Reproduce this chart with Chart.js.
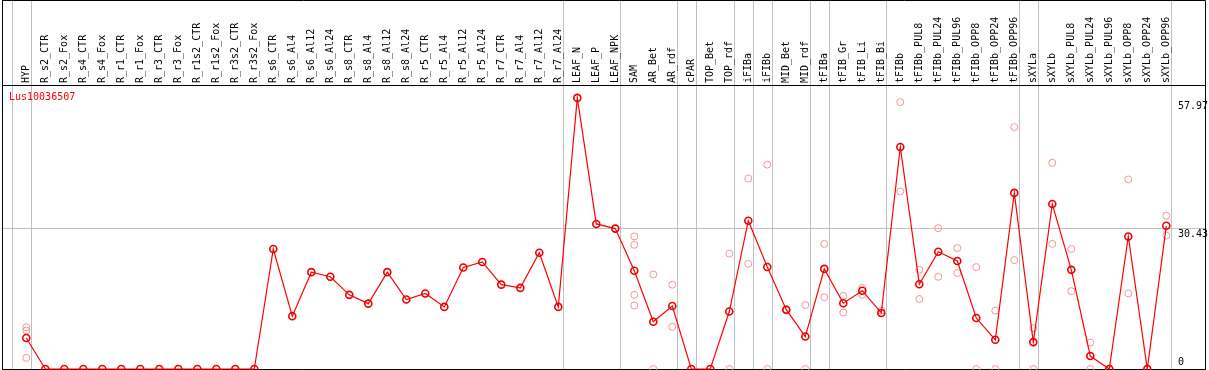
<!DOCTYPE html>
<html>
<head>
<meta charset="utf-8">
<script src="https://cdn.jsdelivr.net/npm/chart.js@4/dist/chart.umd.min.js"></script>
<style>
  html, body { margin: 0; padding: 0; background: #fff; }
  canvas { display: block; }
</style>
</head>
<body>
<canvas id="chart" width="1209" height="370"></canvas>
<script>
const geneName = 'Lus10036507';

const categories = [
  'HYP', 'R_s2_CTR', 'R_s2_Fox', 'R_s4_CTR', 'R_s4_Fox', 'R_r1_CTR', 'R_r1_Fox',
  'R_r3_CTR', 'R_r3_Fox', 'R_r1s2_CTR', 'R_r1s2_Fox', 'R_r3s2_CTR', 'R_r3s2_Fox',
  'R_s6_CTR', 'R_s6_Al4', 'R_s6_Al12', 'R_s6_Al24', 'R_s8_CTR', 'R_s8_Al4',
  'R_s8_Al12', 'R_s8_Al24', 'R_r5_CTR', 'R_r5_Al4', 'R_r5_Al12', 'R_r5_Al24',
  'R_r7_CTR', 'R_r7_Al4', 'R_r7_Al12', 'R_r7_Al24', 'LEAF_N', 'LEAF_P', 'LEAF_NPK',
  'SAM', 'AR_Bet', 'AR_rdf', 'cPAR', 'TOP_Bet', 'TOP_rdf', 'iFIBa', 'iFIBb',
  'MID_Bet', 'MID_rdf', 'tFIBa', 'tFIB_Gr', 'tFIB_Li', 'tFIB_Bi', 'tFIBb',
  'tFIBb_PUL8', 'tFIBb_PUL24', 'tFIBb_PUL96', 'tFIBb_OPP8', 'tFIBb_OPP24', 'tFIBb_OPP96',
  'sXYLa', 'sXYLb', 'sXYLb_PUL8', 'sXYLb_PUL24', 'sXYLb_PUL96', 'sXYLb_OPP8',
  'sXYLb_OPP24', 'sXYLb_OPP96'
];

// mean expression (red line)
const meanValues = [
  6.7, 0, 0, 0, 0, 0, 0, 0, 0, 0, 0, 0, 0,
  25.9, 11.4, 20.9, 19.9, 16.0, 14.1, 20.9, 15.0, 16.3, 13.4, 21.9, 23.1,
  18.2, 17.5, 25.1, 13.4, 58.5, 31.3, 30.3,
  21.2, 10.2, 13.6, 0, 0, 12.4, 32.0, 22.0,
  12.8, 7.0, 21.6, 14.2, 16.9, 12.1, 47.9,
  18.3, 25.3, 23.3, 11.0, 6.3, 38.0,
  5.8, 35.6, 21.4, 2.8, 0, 28.6, 0, 30.9
];

// individual replicates (pale circles), null where not visible
const repA = [
  9.0, null, null, null, null, null, null, null, null, null, null, null, null,
  null, null, null, null, null, null, null, null, null, null, null, null,
  null, null, null, null, null, null, null,
  28.6, 20.4, 18.2, null, null, 24.9, 41.1, 44.1,
  12.9, 13.8, 27.0, 15.8, 17.5, 12.6, 57.6,
  21.4, 30.4, 26.1, 22.0, 12.6, 52.2,
  8.8, 44.5, 25.9, 5.7, 0, 40.9, 0, 33.1
];
const repB = [
  8.3, null, null, null, null, null, null, null, null, null, null, null, null,
  null, null, null, null, null, null, null, null, null, null, null, null,
  null, null, null, null, null, null, null,
  26.8, 0, 9.1, null, null, 0, 22.7, 0,
  12.6, 0, 15.5, 12.2, 16.0, 12.0, 38.3,
  15.1, 19.9, 20.7, 0, 0, 23.5,
  0, 27.0, 16.8, 0, 0, 16.3, 0, 28.8
];
const repC = [
  2.4, null, null, null, null, null, null, null, null, null, null, null, null,
  null, null, null, null, null, null, null, null, null, null, null, null,
  null, null, null, null, null, null, null,
  16.0, null, null, null, null, null, null, null,
  null, null, null, null, null, null, null,
  null, null, null, null, null, null,
  null, null, null, null, null, null, null, null
];
const repD = [
  null, null, null, null, null, null, null, null, null, null, null, null, null,
  null, null, null, null, null, null, null, null, null, null, null, null,
  null, null, null, null, null, null, null,
  13.7, null, null, null, null, null, null, null,
  null, null, null, null, null, null, null,
  null, null, null, null, null, null,
  null, null, null, null, null, null, null, null
];

// group separators sit just right of these category indices
const groupEnds = [-1, 0, 28, 31, 34, 35, 37, 38, 39, 41, 42, 45, 52, 53, 60];

const yTickValues = [0, 30.43, 57.97];
const yTickLabels = ['0', '30.43', '57.97'];

const toPoints = arr => arr.map((v, i) => (v === null ? null : { x: i, y: v })).filter(p => p);

const frame = {
  id: 'frame',
  beforeDatasetsDraw(chart) {
    const ctx = chart.ctx;
    const xs = chart.scales.x;
    const ys = chart.scales.y;
    ctx.save();
    ctx.lineWidth = 1;
    ctx.strokeStyle = '#c0c0c0';
    groupEnds.forEach(i => {
      const px = Math.round(xs.getPixelForValue(i + 0.23)) + 0.5;
      ctx.beginPath();
      ctx.moveTo(px, 0);
      ctx.lineTo(px, 369);
      ctx.stroke();
    });
    const gy = Math.round(ys.getPixelForValue(yTickValues[1])) + 0.5;
    ctx.beginPath();
    ctx.moveTo(2, gy);
    ctx.lineTo(1206, gy);
    ctx.stroke();

    ctx.strokeStyle = '#000';
    ctx.beginPath();
    ctx.moveTo(2.5, 0);
    ctx.lineTo(2.5, 369.5);
    ctx.lineTo(1205.5, 369.5);
    ctx.lineTo(1205.5, 0.5);
    ctx.lineTo(2.5, 0.5);
    ctx.moveTo(2, 85.5);
    ctx.lineTo(1206, 85.5);
    ctx.stroke();

    ctx.font = '10px "DejaVu Sans Mono"';
    ctx.fillStyle = '#000';
    ctx.textAlign = 'left';
    ctx.textBaseline = 'middle';
    categories.forEach((c, i) => {
      const px = xs.getPixelForValue(i);
      ctx.save();
      ctx.translate(px, 83);
      ctx.rotate(-Math.PI / 2);
      ctx.fillText(c, 0, 0);
      ctx.restore();
    });

    yTickValues.forEach((v, k) => {
      const py = ys.getPixelForValue(v);
      if (v === 0) {
        ctx.textBaseline = 'bottom';
        ctx.fillText(yTickLabels[k], 1178, py - 2);
      } else {
        ctx.textBaseline = 'top';
        ctx.fillText(yTickLabels[k], 1178, py + 1);
      }
    });

    ctx.fillStyle = '#ff0000';
    ctx.textBaseline = 'middle';
    ctx.fillText(geneName, 9, 97);
    ctx.restore();
  }
};

const pale = 'rgb(240,150,150)';
const repStyle = {
  type: 'scatter',
  showLine: false,
  pointStyle: 'circle',
  pointRadius: 3.5,
  pointBorderWidth: 1,
  pointBorderColor: pale,
  pointBackgroundColor: 'rgba(0,0,0,0)',
  clip: false,
  order: 2
};

new Chart(document.getElementById('chart'), {
  type: 'line',
  data: {
    datasets: [
      {
        label: geneName,
        data: toPoints(meanValues),
        borderColor: '#ff0000',
        borderWidth: 1.2,
        pointRadius: 3.5,
        pointBorderWidth: 1.6,
        pointBorderColor: '#ee0000',
        pointBackgroundColor: 'rgba(0,0,0,0)',
        tension: 0,
        clip: false,
        order: 1
      },
      Object.assign({ data: toPoints(repA) }, repStyle),
      Object.assign({ data: toPoints(repB) }, repStyle),
      Object.assign({ data: toPoints(repC) }, repStyle),
      Object.assign({ data: toPoints(repD) }, repStyle)
    ]
  },
  options: {
    responsive: false,
    animation: false,
    devicePixelRatio: 1,
    layout: { autoPadding: false, padding: { left: 3, top: 86, right: 39, bottom: 1 } },
    scales: {
      x: { type: 'linear', display: false, min: -1.226, max: 60.195 },
      y: { type: 'linear', display: false, min: 0, max: 61.07 }
    },
    plugins: {
      legend: { display: false },
      tooltip: { enabled: false }
    }
  },
  plugins: [frame]
});
</script>
</body>
</html>
